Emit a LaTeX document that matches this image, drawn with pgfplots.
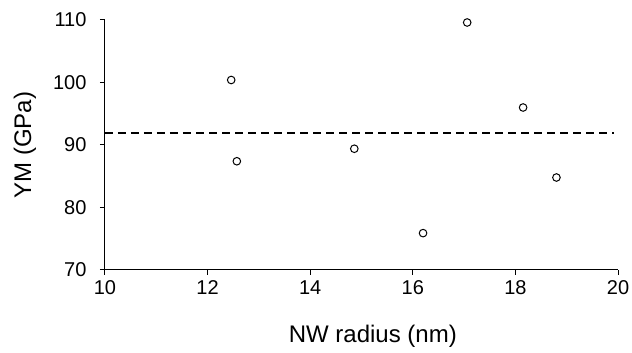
\documentclass[border=0pt]{standalone}
\usepackage{pgfplots}
\pgfplotsset{compat=1.18}
\usepackage{fontspec}
\setmainfont{Liberation Sans}
\begin{document}
\begin{tikzpicture}
\begin{axis}[
  name=ax,
  scale only axis,
  width=513pt, height=250pt,
  xmin=10, xmax=20, ymin=70, ymax=110,
  xtick={10,12,...,20}, ytick={70,80,...,110},
  axis lines*=left,
  axis line style={line width=1pt, black},
  tick align=outside,
  major tick length=5pt,
  tick style={line width=1pt, black},
  /pgf/number format/assume math mode=true,
  ticklabel style={font=\fontsize{20}{24}\selectfont},
  xticklabel style={yshift=-2pt},
  yticklabel style={xshift=-10pt},
  label style={font=\fontsize{24}{28}\selectfont},
  xlabel={NW radius (nm)},
  ylabel={YM (GPa)},
  xlabel style={at={(axis description cs:0.522,-0.29)}, anchor=base},
  ylabel style={at={(axis description cs:-0.156,0.5)}, anchor=center},
  clip=false,
]
\addplot[only marks, mark=o, mark size=3.8pt, mark options={line width=1pt, fill=white}, black]
coordinates {
(12.46,100.4)
(12.57,87.4)
(14.86,89.4)
(16.20,75.9)
(17.06,109.6)
(18.15,96.0)
(18.80,84.8)
};
\addplot[black, line width=2pt, dash pattern=on 8pt off 5pt] coordinates {(10,91.9) (19.92,91.9)};
\end{axis}
\pgfresetboundingbox
\path ([xshift=-105pt,yshift=-83pt]ax.south west) rectangle ([xshift=14pt,yshift=20pt]ax.north east);
\end{tikzpicture}
\end{document}
